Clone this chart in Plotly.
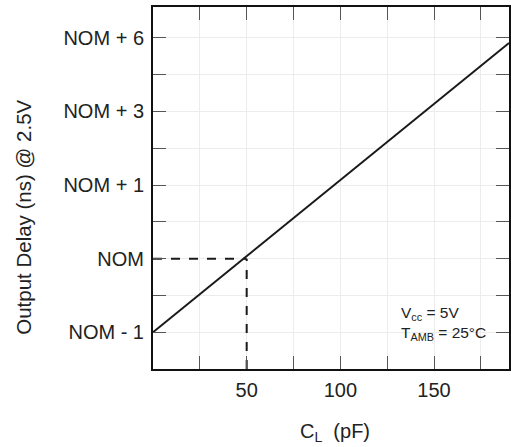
import plotly.graph_objects as go

# Data
cl_pf = [0, 190]
delay_idx = [0, 3.93]          # position on the categorical NOM scale
y_tick_labels = ["NOM - 1", "NOM", "NOM + 1", "NOM + 3", "NOM + 6"]
y_tick_pos = [0, 1, 2, 3, 4]
x_tick_vals = [50, 100, 150]
nom_cl = 50
nom_idx = 1

fig = go.Figure()
fig.add_trace(go.Scatter(x=cl_pf, y=delay_idx, mode="lines",
                         line=dict(color="#1a1a1a", width=2), showlegend=False))
fig.add_trace(go.Scatter(x=[0, nom_cl], y=[nom_idx, nom_idx], mode="lines",
                         line=dict(color="#1a1a1a", width=2, dash="dash"), showlegend=False))
fig.add_trace(go.Scatter(x=[nom_cl, nom_cl], y=[-0.5, nom_idx], mode="lines",
                         line=dict(color="#1a1a1a", width=2, dash="dash"), showlegend=False))

font = "Liberation Sans, Arial, sans-serif"
tick_common = dict(ticks="inside", ticklen=13, tickwidth=1, tickcolor="#555",
                   showline=True, linecolor="#111", linewidth=2, mirror="ticks",
                   showgrid=True, gridcolor="#ececec", zeroline=False,
                   tickfont=dict(size=20, color="#222"))
fig.update_layout(
    width=511, height=447,
    margin=dict(l=153, r=0, t=7, b=78),
    paper_bgcolor="white", plot_bgcolor="white",
    font=dict(family=font, color="#222", size=19),
    xaxis=dict(range=[0, 190], tickvals=x_tick_vals, ticklabelstandoff=2,
               minor=dict(dtick=25, tick0=0, ticks="inside", ticklen=13,
                          tickcolor="#555", showgrid=True, gridcolor="#ececec"),
               **tick_common),
    yaxis=dict(range=[-0.5, 4.42], tickvals=y_tick_pos, ticktext=y_tick_labels,
               ticklabelstandoff=3,
               minor=dict(dtick=0.5, tick0=0, ticks="inside", ticklen=13,
                          tickcolor="#555", showgrid=True, gridcolor="#ececec"),
               **tick_common),
    annotations=[
        dict(text="Output Delay (ns) @ 2.5V", xref="paper", yref="paper",
             x=-0.362, y=0.418, textangle=-90, showarrow=False,
             font=dict(size=20.5), xanchor="center", yanchor="middle"),
        dict(text="C<sub>L</sub>\u00a0 (pF)", xref="paper", yref="paper",
             x=0.51, y=-0.135, showarrow=False, font=dict(size=20),
             xanchor="center", yanchor="top"),
        dict(text="V<sub>cc</sub> = 5V<br>T<sub>AMB</sub> = 25°C", xref="paper",
             yref="paper", x=0.69, y=0.184, showarrow=False, align="left",
             font=dict(size=15.5), xanchor="left", yanchor="top"),
    ],
)
fig.write_html("out.html", config={"displayModeBar": False},
               post_script="document.body.style.margin='0';document.body.style.overflow='hidden';")
